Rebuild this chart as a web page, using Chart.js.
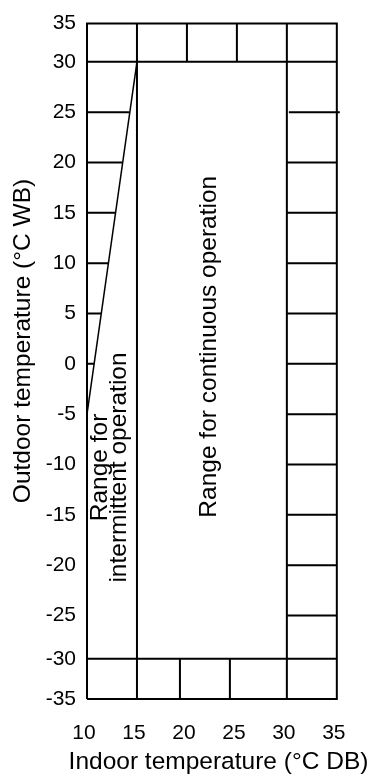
<!DOCTYPE html>
<html>
<head>
<meta charset="utf-8">
<script src="https://cdn.jsdelivr.net/npm/chart.js"></script>
<style>
  html, body { margin: 0; padding: 0; background: #fff; }
  canvas { display: block; }
</style>
</head>
<body>
<canvas id="chart" width="370" height="775"></canvas>
<script>
// === Data (°C) ===
const xTicks = [10, 15, 20, 25, 30, 35];
const yTicks = [35, 30, 25, 20, 15, 10, 5, 0, -5, -10, -15, -20, -25, -30, -35];

// continuous operation: indoor 15-30 °C DB, outdoor -30-30 °C WB
const continuousIndoor = [15, 30];
const outdoorLimits = [-30, 30];
// edge of the intermittent range, [indoor, outdoor]
const intermittentEdge = [[10, -5], [15, 30]];
// short rungs, [outdoor, indoor from, indoor to]
const leftRungs = [[25, 10, 14.2], [20, 10, 13.5], [15, 10, 12.9], [10, 10, 12.2], [5, 10, 11.4], [0, 10, 10.7]];
const rightRungs = [[25, 30.2, 35.3], [20, 30, 35], [15, 30, 35], [10, 30, 35], [5, 30, 35], [0, 30, 35],
  [-5, 30, 35], [-10, 30, 35], [-15, 30, 35], [-20, 30, 35], [-25, 30, 35]];
const topDividers = [20, 25];
const bottomDividers = [19.3, 24.3];

const notes = [
  { lines: ['Range for continuous operation'], x: 22.2, y: 1.7 },
  { lines: ['Range for', 'intermittent operation'], x: 12.3, y: -10.3 }
];

// === Scale with unequal bands (outer bands of the drawing are squeezed) ===
const Linear = Chart.LinearScale || Chart.registry.getScale('linear');
class BandedScale extends Linear {
  static id = 'banded';
  static defaults = {};

  bandInfo() {
    const { stops, weights } = this.options.bands;
    const total = weights.reduce((a, b) => a + b, 0);
    return { stops, weights, total };
  }
  getPixelForValue(value) {
    if (value === null || value === undefined) return NaN;
    const { stops, weights, total } = this.bandInfo();
    let acc = 0;
    for (let i = 0; i < weights.length; i++) {
      const lo = stops[i], hi = stops[i + 1];
      if (value <= hi || i === weights.length - 1) {
        return this.getPixelForDecimal((acc + weights[i] * (value - lo) / (hi - lo)) / total);
      }
      acc += weights[i];
    }
  }
  getValueForPixel(pixel) {
    const { stops, weights, total } = this.bandInfo();
    const d = this.getDecimalForPixel(pixel) * total;
    let acc = 0;
    for (let i = 0; i < weights.length; i++) {
      if (d <= acc + weights[i] || i === weights.length - 1) {
        return stops[i] + (d - acc) / weights[i] * (stops[i + 1] - stops[i]);
      }
      acc += weights[i];
    }
  }
}
Chart.register(BandedScale);

// === Helpers ===
function segments(list) {
  const out = [];
  list.forEach((seg, i) => {
    if (i > 0) out.push({ x: null, y: null });
    seg.forEach(([x, y]) => out.push({ x, y }));
  });
  return out;
}

const xMin = xTicks[0], xMax = xTicks[xTicks.length - 1];
const yMin = Math.min(...yTicks), yMax = Math.max(...yTicks);

const frame = [[[xMin, yMin], [xMin, yMax], [xMax, yMax], [xMax, yMin], [xMin, yMin]]];
const limits = [
  ...outdoorLimits.map(y => [[xMin, y], [xMax, y]]),
  ...continuousIndoor.map(x => [[x, yMin], [x, yMax]])
];
const rungs = [
  ...leftRungs.map(([y, a, b]) => [[a, y], [b, y]]),
  ...rightRungs.map(([y, a, b]) => [[a, y], [b, y]]),
  ...topDividers.map(x => [[x, outdoorLimits[1]], [x, yMax]]),
  ...bottomDividers.map(x => [[x, yMin], [x, outdoorLimits[0]]])
];

const FONT = "'Liberation Sans', Arial, sans-serif";
Chart.defaults.font.family = FONT;
Chart.defaults.color = '#000';

const lineStyle = {
  borderColor: '#000',
  borderWidth: 2,
  pointRadius: 0,
  tension: 0,
  spanGaps: false,
  clip: false,
  borderCapStyle: 'butt',
  borderJoinStyle: 'miter'
};

// in-plot texts and both axis titles
const textPlugin = {
  id: 'texts',
  afterDatasetsDraw(chart) {
    const { ctx, scales: { x, y } } = chart;
    ctx.save();
    ctx.fillStyle = '#000';
    ctx.font = '24.5px ' + FONT;
    ctx.textAlign = 'center';
    ctx.textBaseline = 'middle';
    const lh = 19;
    notes.forEach(n => {
      ctx.save();
      ctx.translate(x.getPixelForValue(n.x), y.getPixelForValue(n.y));
      ctx.rotate(-Math.PI / 2);
      const start = -(n.lines.length - 1) * lh / 2;
      n.lines.forEach((t, i) => ctx.fillText(t, 0, start + i * lh));
      ctx.restore();
    });
    // x axis title
    ctx.font = '24.5px ' + FONT;
    ctx.fillText('Indoor temperature (°C DB)', 218.5, 762);
    // y axis title
    ctx.translate(23.5, 341);
    ctx.rotate(-Math.PI / 2);
    ctx.fillText('Outdoor temperature (°C WB)', 0, 0);
    ctx.restore();
  }
};

new Chart(document.getElementById('chart'), {
  type: 'line',
  data: {
    datasets: [
      { data: segments(frame), ...lineStyle },
      { data: segments(limits), ...lineStyle },
      { data: segments(rungs), ...lineStyle },
      { data: segments([intermittentEdge]), ...lineStyle, borderWidth: 1.5 }
    ]
  },
  options: {
    responsive: false,
    animation: false,
    events: [],
    layout: { padding: { top: 18, right: 28, left: 0, bottom: 0 } },
    plugins: { legend: { display: false }, tooltip: { enabled: false } },
    scales: {
      x: {
        type: 'linear',
        min: xMin,
        max: xMax,
        grid: { display: false, drawTicks: false },
        border: { display: false },
        afterBuildTicks: s => { s.ticks = xTicks.map(v => ({ value: v })); },
        ticks: { padding: 21.5, labelOffset: -3, font: { size: 21 }, color: '#000' },
        afterFit: s => { s.height = 76; }
      },
      y: {
        type: 'banded',
        min: yMin,
        max: yMax,
        bands: { stops: [-35, -30, -25, 30, 35], weights: [0.8, 0.86, 11, 0.76] },
        grid: { display: false, drawTicks: false },
        border: { display: false },
        afterBuildTicks: s => { s.ticks = yTicks.map(v => ({ value: v })); },
        ticks: { padding: 11, font: { size: 21 }, color: '#000' },
        afterFit: s => { s.width = 87; }
      }
    }
  },
  plugins: [textPlugin]
});
</script>
</body>
</html>
